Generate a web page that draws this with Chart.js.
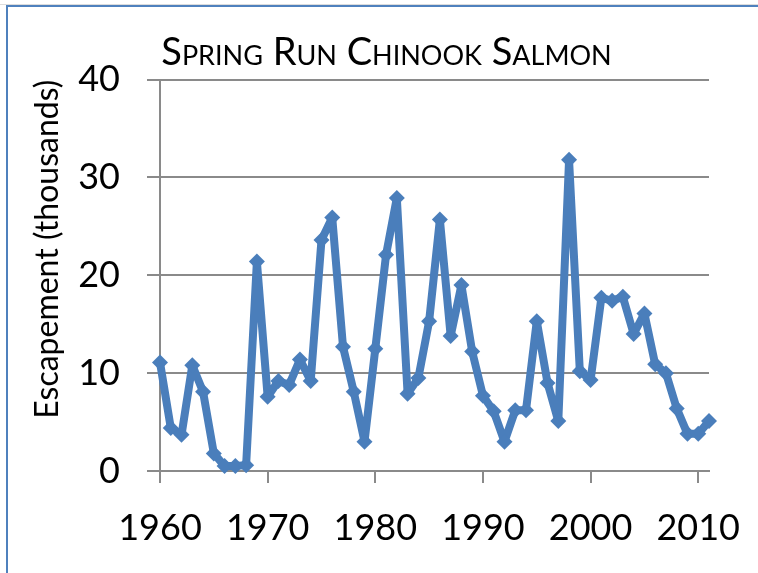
<!DOCTYPE html>
<html>
<head>
<meta charset="utf-8">
<script src="https://cdn.jsdelivr.net/npm/chart.js@4.4.1/dist/chart.umd.min.js"></script>
<style>
  html, body { margin: 0; padding: 0; background: #ffffff; overflow: hidden; }
  #wrap { position: relative; width: 758px; height: 573px; overflow: hidden; background: #ffffff; }
  #topline { position: absolute; left: 0; top: 4px; width: 758px; height: 1px; background: #dcdcdc; }
  #frame { position: absolute; left: 6px; top: 5px; width: 900px; height: 900px; border: 2px solid #4f81bd; box-sizing: border-box; }
  #c { position: absolute; left: 0; top: 0; }
</style>
</head>
<body>
<div id="wrap">
  <div id="topline"></div>
  <div id="frame"></div>
  <canvas id="c" width="758" height="573"></canvas>
</div>
<script>
const chartTitle = 'Spring Run Chinook Salmon';
const yAxisTitle = 'Escapement (thousands)';
const years = [1960, 1961, 1962, 1963, 1964, 1965, 1966, 1967, 1968, 1969,
               1970, 1971, 1972, 1973, 1974, 1975, 1976, 1977, 1978, 1979,
               1980, 1981, 1982, 1983, 1984, 1985, 1986, 1987, 1988, 1989,
               1990, 1991, 1992, 1993, 1994, 1995, 1996, 1997, 1998, 1999,
               2000, 2001, 2002, 2003, 2004, 2005, 2006, 2007, 2008, 2009,
               2010, 2011];
const escapement = [11.1, 4.4, 3.7, 10.8, 8.1, 1.8, 0.5, 0.5, 0.6, 21.4,
                    7.6, 9.2, 8.8, 11.4, 9.2, 23.6, 25.9, 12.7, 8.1, 3.0,
                    12.5, 22.1, 27.9, 7.9, 9.5, 15.3, 25.7, 13.8, 19.0, 12.2,
                    7.7, 6.1, 3.0, 6.2, 6.2, 15.3, 9.0, 5.1, 31.8, 10.2,
                    9.3, 17.7, 17.4, 17.8, 14.0, 16.1, 10.9, 10.0, 6.4, 3.8,
                    3.8, 5.1];
const xTickValues = [1960, 1970, 1980, 1990, 2000, 2010];
const yTickValues = [0, 10, 20, 30, 40];

const points = years.map((y, i) => ({ x: y, y: escapement[i] }));
const lineColor = '#4a7ebb';
const gridColor = '#8a8a8a';
const fontFamily = 'Lato, "Open Sans", sans-serif';

new Chart(document.getElementById('c'), {
  type: 'line',
  data: {
    datasets: [{
      label: 'Escapement',
      data: points,
      borderColor: lineColor,
      backgroundColor: lineColor,
      borderWidth: 8,
      borderJoinStyle: 'round',
      tension: 0,
      pointStyle: 'rectRot',
      pointRadius: 8,
      pointBorderWidth: 0,
      pointBackgroundColor: lineColor,
      pointHoverRadius: 8,
      clip: false,
      fill: false
    }]
  },
  options: {
    responsive: false,
    animation: false,
    devicePixelRatio: 1,
    events: [],
    layout: { padding: { left: 64, right: 49, top: 30, bottom: 0 } },
    plugins: {
      legend: { display: false },
      tooltip: { enabled: false },
      title: {
        display: true,
        text: chartTitle,
        color: '#000000',
        align: 'center',
        font: { family: fontFamily, size: 38, weight: 'small-caps', lineHeight: 1.2 },
        padding: { top: 0, bottom: 4 }
      }
    },
    scales: {
      x: {
        type: 'linear',
        min: years[0],
        max: years[years.length - 1],
        afterFit(scale) { scale.height = 102; scale.paddingLeft = 0; scale.paddingRight = 0; },
        afterBuildTicks(scale) { scale.ticks = xTickValues.map(v => ({ value: v })); },
        ticks: {
          stepSize: 10,
          includeBounds: false,
          autoSkip: false,
          maxRotation: 0,
          color: '#000000',
          padding: 24,
          font: { family: fontFamily, size: 36 },
          callback: (v) => String(v)
        },
        grid: { display: true, drawOnChartArea: false, drawTicks: true, tickLength: 12, color: gridColor, lineWidth: 2 },
        border: { display: true, color: gridColor, width: 2 }
      },
      y: {
        type: 'linear',
        min: 0,
        max: 40,
        afterFit(scale) { scale.width = 96; scale.paddingTop = 0; scale.paddingBottom = 0; },
        afterBuildTicks(scale) { scale.ticks = yTickValues.map(v => ({ value: v })); },
        ticks: {
          stepSize: 10,
          color: '#000000',
          padding: 27,
          font: { family: fontFamily, size: 36 }
        },
        grid: { display: true, drawTicks: true, tickLength: 13, color: gridColor, lineWidth: 2 },
        border: { display: true, color: gridColor, width: 2 },
        title: {
          display: true,
          text: yAxisTitle,
          align: 'end',
          color: '#000000',
          font: { family: fontFamily, size: 32, lineHeight: 1.2 },
          padding: { top: -36, bottom: 0 }
        }
      }
    }
  }
});
</script>
</body>
</html>
